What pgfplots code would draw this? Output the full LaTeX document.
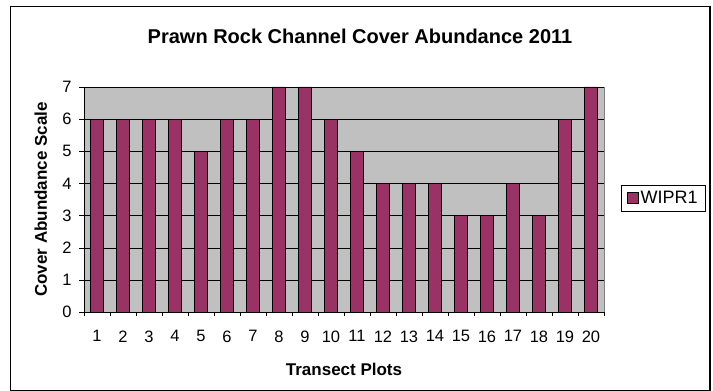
\documentclass[border=0pt]{standalone}
\usepackage{pgfplots}
\pgfplotsset{compat=1.18}
\usepackage{fontspec}
\setmainfont{Liberation Sans}
\definecolor{barc}{HTML}{993366}
\definecolor{plotbg}{HTML}{C0C0C0}
\begin{document}
\begin{tikzpicture}[x=1pt,y=1pt]
\path (0,0) rectangle (713,391);
\draw[line width=1.2pt] (10.5,0.6) rectangle (710,384.5);
\node[font=\bfseries\fontsize{20}{22}\selectfont] at (360,355) {Prawn Rock Channel Cover Abundance 2011};
\begin{axis}[
  at={(84pt,79pt)}, anchor=south west,
  width=520pt, height=225pt, scale only axis,
  xmin=0.5, xmax=20.5, ymin=0, ymax=7,
  xtick={1,...,20},
  minor xtick={0.5,1.5,...,20.5},
  ytick={0,...,7},
  tick align=outside,
  major x tick style={draw=none},
  minor tick length=4pt, major tick length=5pt,
  tick style={black, thin},
  axis x line*=bottom, axis y line*=left,
  axis line style={black, thin, -},
  axis background/.style={fill=plotbg, draw=gray},
  ymajorgrids, grid style={black, thin},
  ticklabel style={font=\fontsize{16.5}{18}\selectfont},
  xticklabel style={yshift=-10pt},
  yticklabel style={xshift=-4pt},
  /pgf/number format/assume math mode=true,
  ylabel={\bfseries Cover Abundance Scale},
  ylabel style={font=\fontsize{17}{19}\selectfont, at={(axis description cs:-0.083,0.5)}, anchor=center},
  xlabel={\bfseries Transect Plots},
  xlabel style={font=\fontsize{17}{19}\selectfont, at={(axis description cs:0.5,-0.253)}, anchor=center},
  legend style={at={(537pt,127pt)}, anchor=north west, draw=black, thin,
    font=\fontsize{18}{20}\selectfont, inner xsep=6pt, inner ysep=4pt, row sep=0pt},
  legend cell align=left,
  legend image code/.code={\draw[fill=barc,draw=black] (0pt,-5.5pt) rectangle (11pt,5.5pt);},
]
\addplot[ybar, bar width=0.5, fill=barc, draw=black, thin] coordinates {
(1,6) (2,6) (3,6) (4,6) (5,5) (6,6) (7,6) (8,7) (9,7) (10,6)
(11,5) (12,4) (13,4) (14,4) (15,3) (16,3) (17,4) (18,3) (19,6) (20,7)};
\addlegendentry{WIPR1}
\end{axis}
\end{tikzpicture}
\end{document}
